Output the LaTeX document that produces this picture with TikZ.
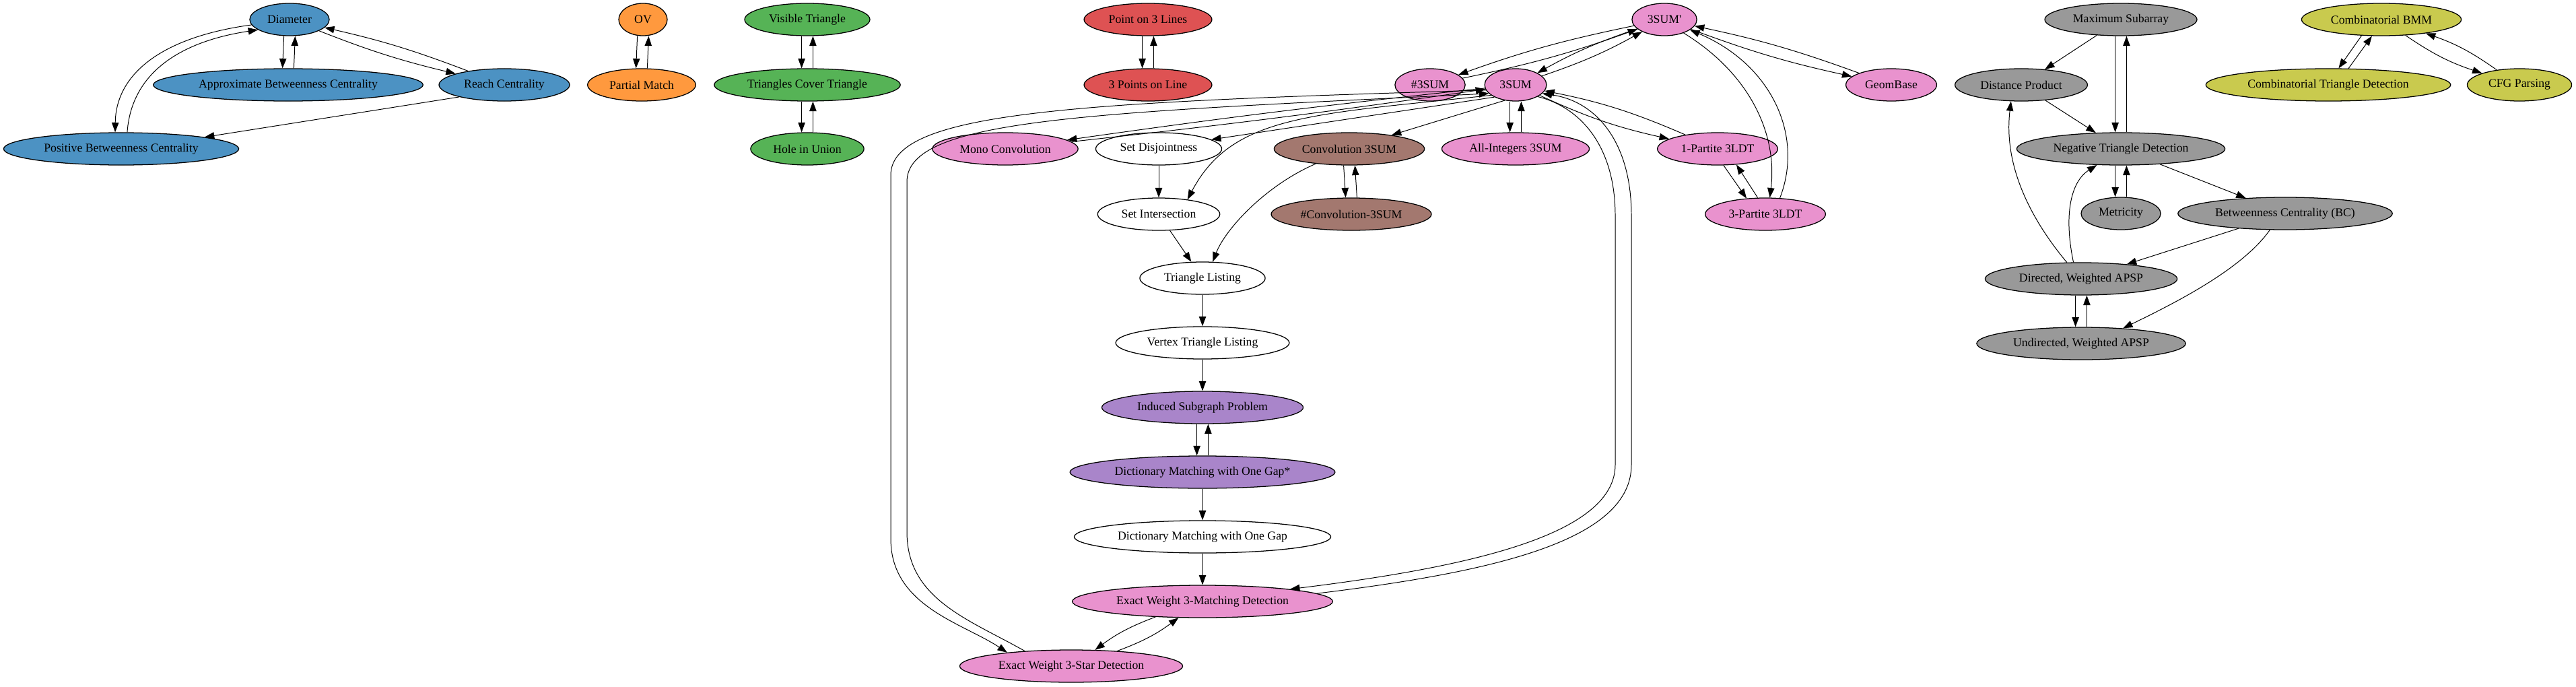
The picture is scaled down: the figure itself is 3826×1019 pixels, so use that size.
\documentclass[tikz,border=0pt]{standalone}
\usepackage{fontspec}
\setmainfont{Liberation Serif}
\usetikzlibrary{shapes.geometric,arrows.meta}
\definecolor{tabblue}{HTML}{1F77B4}
\definecolor{taborange}{HTML}{FF7F0E}
\definecolor{tabgreen}{HTML}{2CA02C}
\definecolor{tabred}{HTML}{D62728}
\definecolor{tabpurple}{HTML}{9467BD}
\definecolor{tabbrown}{HTML}{8C564B}
\definecolor{tabpink}{HTML}{E377C2}
\definecolor{tabgray}{HTML}{7F7F7F}
\definecolor{tabolive}{HTML}{BCBD22}

\begin{document}
\begin{tikzpicture}[x=0.025cm,y=0.025cm,
	prob/.style={ellipse,draw,line width=0.9pt,inner xsep=0.22cm,inner ysep=0pt,minimum height=1.2cm,minimum width=1.8cm,font=\fontsize{12.6}{15}\selectfont},
	link/.style={-{Triangle[length=0.36cm,width=0.26cm]},line width=0.7pt}]
	\useasboundingbox (0,0) rectangle (3826,-1019);
	\node[prob,fill=tabblue!80] (diam) at (430,-29) {Diameter};
	\node[prob,fill=tabblue!80] (abc) at (428,-126) {Approximate Betweenness Centrality};
	\node[prob,fill=tabblue!80] (reach) at (749,-126) {Reach Centrality};
	\node[prob,fill=tabblue!80] (pbc) at (180,-221) {Positive Betweenness Centrality};
	\node[prob,fill=taborange!80] (ov) at (955,-29) {OV};
	\node[prob,fill=taborange!80] (pm) at (953,-126) {Partial Match};
	\node[prob,fill=tabgreen!80] (vis) at (1199,-29) {Visible Triangle};
	\node[prob,fill=tabgreen!80] (tct) at (1199,-126) {Triangles Cover Triangle};
	\node[prob,fill=tabgreen!80] (hole) at (1199,-221) {Hole in Union};
	\node[prob,fill=tabred!80] (pl3) at (1705,-29) {Point on 3 Lines};
	\node[prob,fill=tabred!80] (p3l) at (1705,-126) {3 Points on Line};
	\node[prob,fill=tabpink!80] (tsump) at (2472,-29) {3SUM\textquotesingle};
	\node[prob,fill=tabpink!80] (nsum) at (2124,-126) {\#3SUM};
	\node[prob,fill=tabpink!80] (tsum) at (2251,-126) {3SUM};
	\node[prob,fill=tabpink!80] (geom) at (2809,-126) {GeomBase};
	\node[prob,fill=tabpink!80] (mono) at (1493,-221) {Mono Convolution};
	\node[prob,fill=white] (sdis) at (1721,-221) {Set Disjointness};
	\node[prob,fill=tabbrown!80] (conv) at (2004,-221) {Convolution 3SUM};
	\node[prob,fill=tabpink!80] (allint) at (2251,-221) {All-Integers 3SUM};
	\node[prob,fill=tabpink!80] (onep) at (2551,-221) {1-Partite 3LDT};
	\node[prob,fill=white] (sint) at (1721,-318) {Set Intersection};
	\node[prob,fill=tabbrown!80] (nconv) at (2007,-318) {\#Convolution-3SUM};
	\node[prob,fill=tabpink!80] (threep) at (2622,-318) {3-Partite 3LDT};
	\node[prob,fill=white] (tl) at (1786,-413) {Triangle Listing};
	\node[prob,fill=white] (vtl) at (1786,-509) {Vertex Triangle Listing};
	\node[prob,fill=tabpurple!80] (isp) at (1786,-605) {Induced Subgraph Problem};
	\node[prob,fill=tabpurple!80] (dmstar) at (1786,-701) {Dictionary Matching with One Gap*};
	\node[prob,fill=white] (dm) at (1786,-797) {Dictionary Matching with One Gap};
	\node[prob,fill=tabpink!80] (ewm) at (1786,-893) {Exact Weight 3-Matching Detection};
	\node[prob,fill=tabpink!80] (ews) at (1591,-989) {Exact Weight 3-Star Detection};
	\node[prob,fill=tabgray!80] (maxs) at (3150,-29) {Maximum Subarray};
	\node[prob,fill=tabgray!80] (dp) at (3002,-126) {Distance Product};
	\node[prob,fill=tabgray!80] (ntd) at (3150,-221) {Negative Triangle Detection};
	\node[prob,fill=tabgray!80] (met) at (3150,-317) {Metricity};
	\node[prob,fill=tabgray!80] (bc) at (3394,-317) {Betweenness Centrality (BC)};
	\node[prob,fill=tabgray!80] (dapsp) at (3091,-414) {Directed, Weighted APSP};
	\node[prob,fill=tabgray!80] (uapsp) at (3091,-510) {Undirected, Weighted APSP};
	\node[prob,fill=tabolive!80] (cbmm) at (3537,-29) {Combinatorial BMM};
	\node[prob,fill=tabolive!80] (ctd) at (3458,-126) {Combinatorial Triangle Detection};
	\node[prob,fill=tabolive!80] (cfg) at (3742,-126) {CFG Parsing};

	\foreach \a/\b in {diam/abc,ov/pm,vis/tct,tct/hole,pl3/p3l,tsum/allint,conv/nconv,isp/dmstar,maxs/ntd,ntd/met,dapsp/uapsp}
	{\draw[link] ([xshift=-0.21cm]\a.south) -- ([xshift=-0.21cm]\b.north);
	\draw[link] ([xshift=0.21cm]\b.north) -- ([xshift=0.21cm]\a.south);}
	\foreach \a/\b/\k in {diam/reach/4,tsump/nsum/4,tsump/tsum/5,tsump/geom/4,tsum/onep/6,tsum/mono/1,ewm/ews/8,cbmm/cfg/8}
	{\draw[link] (\a) to[bend right=\k] (\b);
	\draw[link] (\b) to[bend right=\k] (\a);}
	\draw[link] (onep.-70) -- (threep.140);
	\draw[link] (threep.115) -- (onep.-40);
	\draw[link] (cbmm.219) -- (ctd.58);
	\draw[link] (ctd.39) -- (cbmm.240);

	\draw[link] (diam.188) .. controls (240,-55) and (172,-110) .. (pbc.110);
	\draw[link] (pbc.70) .. controls (195,-110) and (265,-62) .. (diam.198);
	\draw[link] (reach.195) -- (pbc.8);

	\draw[link] (tsump.-35) .. controls (2600,-110) and (2640,-200) .. (threep.75);
	\draw[link] (threep.48) .. controls (2680,-200) and (2630,-95) .. (tsump.-22);
	\draw[link] (tsum.210) -- (sdis.10);
	\draw[link] (tsum.203) .. controls (1950,-170) and (1830,-170) .. (sint.27);
	\draw[link] (tsum.235) -- (conv.18);
	\draw[link] (conv.204) .. controls (1880,-275) and (1820,-340) .. (tl.58);
	\draw[link] (sdis) -- (sint);
	\draw[link] (sint) -- (tl);
	\draw[link] (tl) -- (vtl);
	\draw[link] (vtl) -- (isp);
	\draw[link] (dmstar) -- (dm);
	\draw[link] (dm) -- (ewm);
	\draw[link] (tsum.190) .. controls (1600,-152) and (1323,-165) .. (1323,-260) -- (1323,-800) .. controls (1323,-900) and (1430,-925) .. (ews.168);
	\draw[link] (ews.162) .. controls (1440,-920) and (1347,-890) .. (1347,-790) -- (1347,-270) .. controls (1347,-178) and (1600,-168) .. (tsum.198);
	\draw[link] (tsum.-28) .. controls (2350,-160) and (2399,-220) .. (2399,-320) -- (2399,-690) .. controls (2399,-790) and (2200,-840) .. (ewm.8);
	\draw[link] (ewm.4) .. controls (2230,-848) and (2423,-800) .. (2423,-690) -- (2423,-320) .. controls (2423,-210) and (2370,-150) .. (tsum.-18);

	\draw[link] (maxs) -- (dp);
	\draw[link] (dp) -- (ntd);
	\draw[link] (ntd) -- (bc);
	\draw[link] (bc) -- (dapsp);
	\draw[link] (bc.227) .. controls (3330,-400) and (3230,-450) .. (uapsp.20);
	\draw[link] (dapsp.131) .. controls (3020,-330) and (2975,-250) .. (dp.238);
	\draw[link] (dapsp.115) .. controls (3065,-320) and (3075,-270) .. (ntd.214);
\end{tikzpicture}
\end{document}
